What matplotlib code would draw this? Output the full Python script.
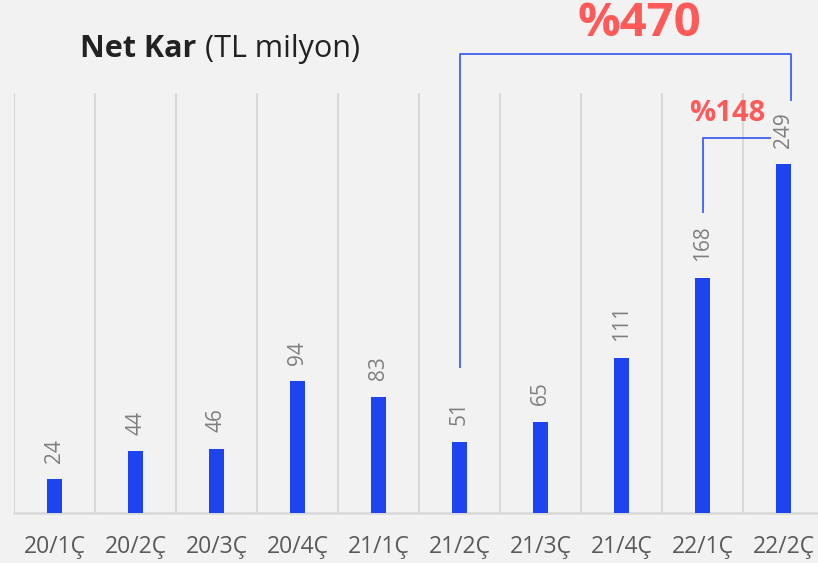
import numpy as np
import matplotlib
matplotlib.use('Agg')
import matplotlib.pyplot as plt

# ==========================================================
# Dados
# ==========================================================
quarters = ['20/1Ç', '20/2Ç', '20/3Ç', '20/4Ç', '21/1Ç',
            '21/2Ç', '21/3Ç', '21/4Ç', '22/1Ç', '22/2Ç']
net_kar = [24, 44, 46, 94, 83, 51, 65, 111, 168, 249]

growth_big = '%470'
growth_small = '%148'

plt.rcParams['font.family'] = ['Open Sans', 'DejaVu Sans']

bar_color = '#1e44f0'
line_color = '#4a6cf0'
red = '#ff5a5a'
grid_color = '#d9d9d9'

# ==========================================================
# Figura
# ==========================================================
fig = plt.figure(figsize=(8.18, 5.63), dpi=100)
fig.patch.set_facecolor('#f2f2f2')

ax = fig.add_axes([14/818, 50/563, 810/818, 420/563])
ax.set_facecolor('none')

x = np.arange(len(quarters))
ax.bar(x, net_kar, width=0.185, color=bar_color, zorder=3)

for xi, v in zip(x, net_kar):
    ax.annotate(str(v), (xi, v), xytext=(0, 12), textcoords='offset points',
                rotation=90, ha='center', va='bottom',
                fontsize=15, color='#7f7f7f')

ax.set_xlim(-0.5, len(quarters) - 0.5)
ax.set_ylim(0, 300)
ax.set_xticks(x)
ax.set_xticklabels(quarters, fontsize=16.5, color='#595959')
ax.set_yticks([])
ax.tick_params(axis='x', length=0, pad=16)

ax.set_xticks(np.arange(-0.5, len(quarters)), minor=True)
ax.tick_params(axis='x', which='minor', length=0)
ax.grid(axis='x', which='minor', color=grid_color, lw=1.5, zorder=0)
ax.grid(axis='x', which='major', visible=False)

for s in ['top', 'left', 'right']:
    ax.spines[s].set_visible(False)
ax.spines['bottom'].set_color(grid_color)
ax.spines['bottom'].set_linewidth(1.8)

# ==========================================================
# Colchetes de crescimento
# ==========================================================
ax.plot([5, 5, 9.09, 9.09], [104, 328, 328, 295],
        color=line_color, lw=1.4, clip_on=False, zorder=4)
ax.plot([8, 8, 8.83], [215, 268, 268],
        color=line_color, lw=1.4, clip_on=False, zorder=4)

ax.text(7.22, 350, growth_big, ha='center', va='center',
        fontsize=34, fontweight='bold', color=red)
ax.text(8.3, 285, growth_small, ha='center', va='center',
        fontsize=21, fontweight='bold', color=red)

# ==========================================================
# Título
# ==========================================================
fig.text(80/818, 1 - 57/563, 'Net Kar', fontsize=22, fontweight='bold',
         color='#222222', va='baseline', ha='left')
fig.text(205/818, 1 - 57/563, '(TL milyon)', fontsize=22,
         color='#222222', va='baseline', ha='left')

fig.savefig('out.png', dpi=100, facecolor=fig.get_facecolor())
